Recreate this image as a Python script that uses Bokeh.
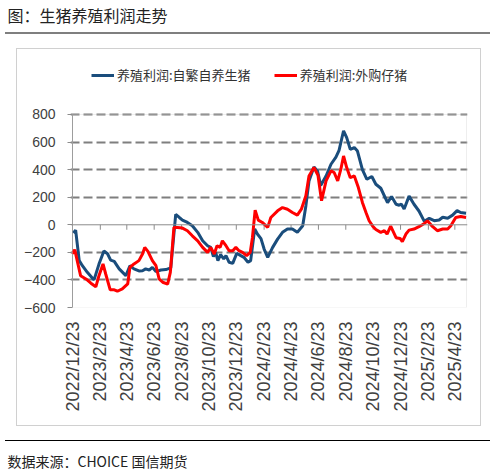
from bokeh.plotting import figure
from bokeh.models import (FixedTicker, Range1d, Span, BoxAnnotation, Legend, LegendItem, Title)
from bokeh.embed import file_html
from bokeh.resources import INLINE
import math

# ---------------- data ----------------
title_text = "图：生猪养殖利润走势"
source_text = "数据来源：CHOICE  国信期货"
series_names = ["养殖利润:自繁自养生猪", "养殖利润:外购仔猪"]

# x positions are days after 2022/12/23
tick_days = [0, 62, 121, 182, 243, 304, 365, 427, 487, 548, 609, 670, 731, 793, 852]
tick_labels = ["2022/12/23", "2023/2/23", "2023/4/23", "2023/6/23", "2023/8/23",
               "2023/10/23", "2023/12/23", "2024/2/23", "2024/4/23", "2024/6/23",
               "2024/8/23", "2024/10/23", "2024/12/23", "2025/2/23", "2025/4/23"]
y_ticks = [-600, -400, -200, 0, 200, 400, 600, 800]

blue_days = [2, 7, 15, 22, 33, 48, 59, 70, 78, 85,
             93, 104, 119, 128, 137, 148, 156, 163, 171, 178,
             186, 197, 208, 219, 230, 238, 245, 256, 267, 279,
             290, 301, 308, 314, 319, 324, 330, 337, 342, 349,
             357, 366, 375, 382, 391, 397, 406, 412, 420, 427,
             435, 446, 457, 468, 479, 490, 501, 513, 520, 527,
             538, 546, 553, 565, 576, 587, 594, 604, 611, 619,
             628, 635, 646, 656, 667, 676, 687, 702, 711, 721,
             728, 733, 739, 750, 761, 772, 784, 795, 806, 817,
             825, 836, 847, 857, 865, 877]
blue_vals = [-60, -40, -260, -297, -345, -400, -285, -190, -210, -256,
             -265, -320, -369, -297, -320, -335, -333, -320, -328, -309,
             -340, -328, -325, -313, 75, 53, 34, 17, -7, -55,
             -116, -152, -164, -231, -200, -260, -217, -248, -224, -272,
             -280, -207, -224, -236, -272, -260, -30, -67, -100, -176,
             -236, -164, -104, -55, -31, -31, -55, -7, 137, 318,
             420, 391, 285, 354, 439, 490, 540, 682, 632, 547,
             560, 535, 400, 330, 350, 294, 265, 160, 205, 149,
             142, 149, 115, 208, 149, 100, 25, 47, 30, 35,
             55, 47, 70, 103, 89, 84]

red_days = [0, 5, 18, 30, 41, 52, 59, 68, 74, 84,
            93, 100, 111, 123, 128, 137, 148, 156, 161, 168,
            178, 186, 193, 201, 212, 218, 226, 234, 245, 256,
            267, 279, 290, 301, 308, 316, 322, 329, 334, 342,
            349, 357, 364, 371, 379, 388, 396, 401, 407, 414,
            423, 435, 442, 457, 468, 479, 490, 501, 510, 520,
            527, 538, 547, 555, 565, 576, 583, 591, 598, 604,
            611, 619, 628, 637, 646, 654, 661, 669, 676, 687,
            695, 701, 709, 721, 730, 735, 743, 750, 761, 772,
            784, 791, 802, 813, 825, 836, 843, 854, 865, 877]
red_vals = [-210, -180, -369, -393, -424, -450, -369, -284, -357, -472,
            -472, -482, -465, -429, -309, -284, -260, -212, -164, -193,
            -260, -297, -393, -417, -430, -345, -19, -19, -24, -43,
            -80, -116, -164, -200, -164, -212, -152, -164, -116, -152,
            -188, -188, -164, -188, -200, -224, -200, -92, 106, 34,
            17, -19, 53, 101, 125, 113, 89, 70, 113, 210,
            354, 415, 359, 174, 318, 391, 379, 318, 403, 499,
            415, 342, 354, 270, 162, 89, 29, -10, -34, -55,
            -43, -67, -10, -94, -99, -123, -67, -39, -31, -14,
            10, 29, -12, -43, -31, -31, -7, 53, 60, 53]

BLUE = "#1a4d7c"
RED = "#ff0000"
CJK = "Noto Sans CJK SC"
AXIS_GRAY = "#8c8c8c"

W, H = 495, 473
BL, BR, BT, BB = 70, 28, 26, 166

p = figure(width=W, height=H, output_backend="svg", toolbar_location=None,
           x_range=Range1d(-4.46, 880.2), y_range=Range1d(-600, 1431),
           min_border_left=BL, min_border_right=BR, min_border_top=BT,
           min_border_bottom=BB, title=None)
p.background_fill_alpha = 0
p.border_fill_alpha = 0
p.outline_line_color = None

# page decorations (grey rule under title, chart box, black rule above source)
p.styles = {
    "background-color": "white",
    "background-image": ", ".join(["linear-gradient(#7f7f7f, #7f7f7f)",
                                   "linear-gradient(#000000, #000000)"]
                                  + ["linear-gradient(#d0d0d0, #d0d0d0)"] * 4),
    "background-position": "5px 32px, 5px 440px, 16px 48px, 16px 425px, 16px 48px, 480px 48px",
    "background-size": "485px 2px, 485px 1px, 465px 1px, 465px 1px, 1px 378px, 1px 378px",
    "background-repeat": "no-repeat",
}

# title (above) and source (below, after a blank spacer under the axis)
head = Title(text=title_text, align="left", offset=-63, standoff=1,
             text_font=CJK, text_font_size="16px", text_font_style="normal",
             text_color="#222222")
p.add_layout(head, "above")
spacer = Title(text=" ", align="left", standoff=17, text_font=CJK,
               text_font_size="10px")
p.add_layout(spacer, "below")
src = Title(text=source_text, align="left", offset=-63, standoff=0,
            text_font=CJK, text_font_size="14px", text_font_style="normal",
            text_color="#222222")
p.add_layout(src, "below")

p.xaxis.ticker = FixedTicker(ticks=tick_days)
p.xaxis.major_label_overrides = {d: t for d, t in zip(tick_days, tick_labels)}
p.xaxis.major_label_orientation = math.pi / 2
p.xaxis.major_label_text_font = "Liberation Sans"
p.xaxis.major_label_text_font_size = "18px"
p.xaxis.major_label_text_color = "#404040"
p.xaxis.major_label_standoff = 8
p.xaxis.axis_line_color = None
p.xaxis.major_tick_line_color = None
p.xaxis.minor_tick_line_color = None

p.yaxis.ticker = FixedTicker(ticks=y_ticks)
p.yaxis.major_label_text_font = "Liberation Sans"
p.yaxis.major_label_text_font_size = "14px"
p.yaxis.major_label_text_color = "#404040"
p.yaxis.axis_line_color = None
p.yaxis.major_tick_line_color = AXIS_GRAY
p.yaxis.major_tick_out = 3
p.yaxis.major_tick_in = 2
p.yaxis.minor_tick_line_color = None
p.yaxis.major_label_standoff = 12

p.xgrid.grid_line_color = None
p.ygrid.ticker = FixedTicker(ticks=[t for t in y_ticks if t != 0])
p.ygrid.grid_line_color = "#7f7f7f"
p.ygrid.grid_line_width = 2
p.ygrid.grid_line_dash = "9 4"

# plot-area border, y-axis line, zero line and its tick marks
p.add_layout(BoxAnnotation(left=tick_days[0], right=red_days[-1] + 1,
                           bottom=min(y_ticks), top=max(y_ticks),
                           fill_alpha=0, line_color="#c8c8c8", line_width=1))
p.add_layout(Span(location=0, dimension="width", line_color=AXIS_GRAY, line_width=1))
p.segment(x0=[tick_days[0]], y0=[min(y_ticks)], x1=[tick_days[0]], y1=[max(y_ticks)],
          line_color=AXIS_GRAY, line_width=1)
p.segment(x0=tick_days, y0=[0] * len(tick_days), x1=tick_days,
          y1=[-36] * len(tick_days), line_color=AXIS_GRAY, line_width=1)

# series
r_blue = p.line(blue_days, blue_vals, line_color=BLUE, line_width=3)
r_red = p.line(red_days, red_vals, line_color=RED, line_width=3)

legend = Legend(items=[LegendItem(label=series_names[0], renderers=[r_blue]),
                       LegendItem(label=series_names[1], renderers=[r_red])],
                orientation="horizontal", location=(21, 223))
legend.padding = 0
legend.margin = 0
legend.spacing = 23
legend.label_standoff = 3
legend.glyph_width = 23
legend.glyph_height = 16
legend.label_height = 16
legend.label_text_font = CJK
legend.label_text_font_size = "13px"
legend.label_text_color = "#333333"
legend.border_line_color = None
legend.background_fill_alpha = 0
p.add_layout(legend, "center")

open("out.html", "w").write(file_html(p, INLINE))
